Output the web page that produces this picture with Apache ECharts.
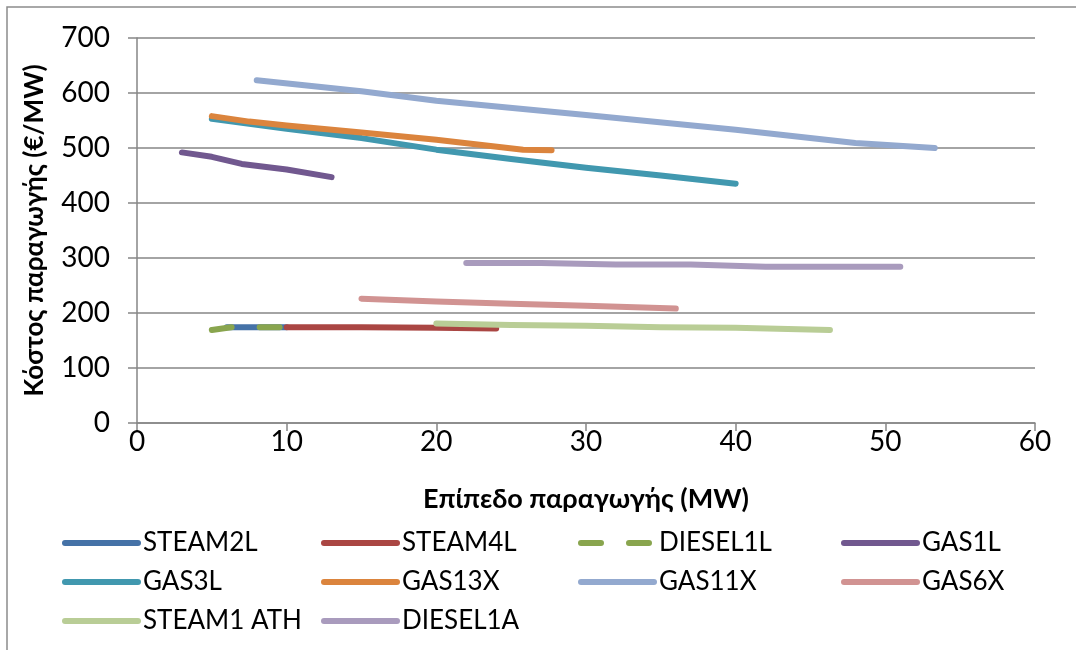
<!DOCTYPE html>
<html>
<head>
<meta charset="utf-8">
<script src="https://cdn.jsdelivr.net/npm/echarts@6/dist/echarts.min.js"></script>
<style>html,body{margin:0;padding:0;background:#fff;}#c{width:1076px;height:650px;}</style>
</head>
<body>
<div id="c"></div>
<script>
const seriesNames = ['STEAM2L','STEAM4L','DIESEL1L','GAS1L','GAS3L','GAS13X','GAS11X','GAS6X','STEAM1 ATH','DIESEL1A'];
const steam2L  = [[6,174],[10,174]];
const steam4L  = [[10,174],[15,174],[20,173],[24,172]];
const diesel1L = [[5,169],[6.3,174],[8,174],[9.7,174]];
const gas1L    = [[3,492],[5,484],[7,471],[10,461],[13,447]];
const gas3L    = [[5,553],[10,535],[15,518],[20,497],[25,480],[30,464],[35,450],[40,435]];
const gas13X   = [[5,558],[7.5,548],[10,541],[15,528],[20,515],[25.8,497],[27.7,496]];
const gas11X   = [[8,623],[15,603],[20,586],[30,560],[40,533],[48,509],[53.3,500]];
const gas6X    = [[15,226],[20,221],[25,217],[30,213],[36,208]];
const steam1ATH= [[20,181],[25,178],[30,177],[35,174],[40,173],[46.3,169]];
const diesel1A = [[22,291],[27,291],[32,288],[37,288],[42,284],[51,284]];
const xTicks = [0,10,20,30,40,50,60];
const yTicks = [0,100,200,300,400,500,600,700];

const dataList = [steam2L, steam4L, diesel1L, gas1L, gas3L, gas13X, gas11X, gas6X, steam1ATH, diesel1A];
const colors = ['#4572A7','#AA4643','#89A54E','#71588F','#4198AF','#DB843D','#93A9CF','#D19392','#B9CD96','#A99BBD'];

const series = seriesNames.map((n, i) => ({
  name: n,
  type: 'line',
  data: dataList[i],
  showSymbol: false,
  symbol: 'none',
  smooth: false,
  lineStyle: {
    width: 6,
    color: colors[i],
    cap: 'round',
    join: 'round',
    type: n === 'DIESEL1L' ? [20, 28] : 'solid'
  },
  itemStyle: { color: colors[i] }
}));

const font = 'Lato, "Open Sans", sans-serif';
const legendBase = {
  orient: 'vertical',
  top: 524,
  itemWidth: 73,
  itemHeight: 14,
  itemGap: 11,
  textStyle: { fontFamily: font, fontSize: 26, color: '#000', lineHeight: 28 },
  itemStyle: { opacity: 0 },
  lineStyle: { width: 6, cap: 'round', type: 'inherit' },
  selectedMode: false
};

const chart = echarts.init(document.getElementById('c'), null, { renderer: 'canvas' });
chart.setOption({
  backgroundColor: '#fff',
  animation: false,
  color: colors,
  graphic: [{
    type: 'rect',
    shape: { x: 7, y: 7, width: 1200, height: 1000 },
    style: { fill: 'none', stroke: '#8c8c8c', lineWidth: 1.5 },
    silent: true
  }],
  grid: { left: 137, right: 41, top: 38, bottom: 227, containLabel: false },
  xAxis: {
    type: 'value',
    min: xTicks[0], max: xTicks[xTicks.length - 1], interval: 10,
    name: 'Επίπεδο παραγωγής (MW)',
    nameLocation: 'middle',
    nameGap: 63,
    nameTextStyle: { fontFamily: font, fontSize: 27, fontWeight: 'bold', color: '#000' },
    axisLine: { show: true, lineStyle: { color: '#868686', width: 1.5 } },
    axisTick: { show: true, inside: false, length: 8, lineStyle: { color: '#868686', width: 1.5 } },
    axisLabel: { fontFamily: font, fontSize: 28, color: '#000', margin: 5 },
    splitLine: { show: false }
  },
  yAxis: {
    type: 'value',
    min: yTicks[0], max: yTicks[yTicks.length - 1], interval: 100,
    name: 'Κόστος παραγωγής (€/MW)',
    nameLocation: 'middle',
    nameRotate: 90,
    nameGap: 89,
    nameTextStyle: { fontFamily: font, fontSize: 26, fontWeight: 'bold', color: '#000' },
    axisLine: { show: true, lineStyle: { color: '#868686', width: 1.5 } },
    axisTick: { show: true, inside: false, length: 9, lineStyle: { color: '#868686', width: 1.5 } },
    axisLabel: { fontFamily: font, fontSize: 28, color: '#000', margin: 27 },
    splitLine: { show: true, lineStyle: { color: '#868686', width: 1.5 } }
  },
  legend: [
    Object.assign({}, legendBase, { left: 57, data: ['STEAM2L','GAS3L','STEAM1 ATH'] }),
    Object.assign({}, legendBase, { left: 316, data: ['STEAM4L','GAS13X','DIESEL1A'] }),
    Object.assign({}, legendBase, { left: 573, data: ['DIESEL1L','GAS11X'] }),
    Object.assign({}, legendBase, { left: 836, data: ['GAS1L','GAS6X'] })
  ],
  series: series
});
</script>
</body>
</html>
